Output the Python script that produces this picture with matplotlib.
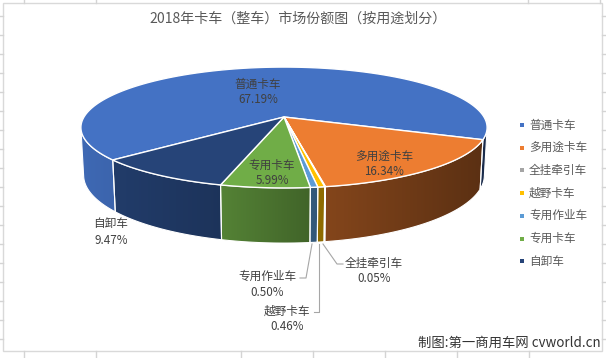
import numpy as np
import matplotlib
matplotlib.use('Agg')
import matplotlib.pyplot as plt
from matplotlib.patches import Polygon, Rectangle

plt.rcParams['font.family'] = ['Noto Sans CJK SC', 'DejaVu Sans']

# data
categories = ['普通卡车', '多用途卡车', '全挂牵引车', '越野卡车', '专用作业车', '专用卡车', '自卸车']
shares = [67.19, 16.34, 0.05, 0.46, 0.50, 5.99, 9.47]
colors = ['#4472C4', '#ED7D31', '#A5A5A5', '#FFC000', '#5B9BD5', '#70AD47', '#264478']
title = '2018年卡车（整车）市场份额图（按用途划分）'
footer = '制图:第一商用车网 cvworld.cn'

# 3D pie geometry (pixels), perspective camera
CX, CY, R = 284, 117, 200
SIN_A = 0.293
COS_A = np.sqrt(1 - SIN_A ** 2)
F = 5.5        # camera distance in radii
H = 0.247      # pie thickness in radii
START = 220.6  # angle of first slice (deg, counter-clockwise from 3 o'clock)


def project(phi_deg, h):
    phi = np.radians(phi_deg)
    x = np.cos(phi)
    yd = np.sin(phi)
    zc = F + yd * COS_A - h * SIN_A
    sy = yd * SIN_A + h * COS_A
    return CX + R * x * F / zc, CY - R * sy * F / zc


def shade(x):
    # light comes from the left, walls get darker to the right
    return np.interp(x, [x_left, 217, 320, x_right], [0.92, 0.76, 0.56, 0.38])


fig = plt.figure(figsize=(6.06, 3.58), dpi=100)
ax = fig.add_axes([0, 0, 1, 1])

# silhouette of the side wall
sil = np.degrees(np.arcsin(1 / (F * COS_A)))
windows = [(-180 + sil, -sil), (180 + sil, 360 - sil)]
x_left = project(180 + sil, 0)[0]
x_right = project(-sil, 0)[0]

cum = np.concatenate([[0], np.cumsum(shares)])
bounds = START - 360 * cum / 100

# side walls
for i, col in enumerate(colors):
    a_hi, a_lo = bounds[i], bounds[i + 1]
    for w_lo, w_hi in windows:
        lo, hi = max(a_lo, w_lo), min(a_hi, w_hi)
        if hi <= lo:
            continue
        t = np.linspace(hi, lo, 80)
        tx, ty = project(t, 0)
        bx, by = project(t[::-1], -H)
        pts = np.column_stack([np.concatenate([tx, bx]), np.concatenate([ty, by])])
        poly = Polygon(pts, closed=True, facecolor='none', edgecolor='white', lw=0.8, zorder=3)
        ax.add_patch(poly)
        xs = np.linspace(pts[:, 0].min(), pts[:, 0].max(), 64)
        base = np.array(matplotlib.colors.to_rgb(col))
        img = (base[None, :] * shade(xs)[:, None])[None, :, :]
        im = ax.imshow(img, extent=(xs[0], xs[-1], pts[:, 1].max(), pts[:, 1].min()),
                       aspect='auto', interpolation='bilinear', zorder=2)
        im.set_clip_path(poly)

# top faces
for i, col in enumerate(colors):
    t = np.linspace(bounds[i], bounds[i + 1], max(int(abs(bounds[i] - bounds[i + 1]) * 2), 4))
    tx, ty = project(t, 0)
    pts = np.column_stack([np.concatenate([[CX], tx]), np.concatenate([[CY], ty])])
    ax.add_patch(Polygon(pts, closed=True, facecolor=col, edgecolor='white', lw=1.0, zorder=4))

# data labels
lab_col = '#404040'
inside = {0: (258, 84), 1: (384, 156), 5: (272, 165)}
for i, (x, y) in inside.items():
    ax.text(x, y, categories[i], ha='center', va='center', fontsize=8.4, color=lab_col, zorder=6)
    ax.text(x, y + 15.5, f'{shares[i]:.2f}%', ha='center', va='center', fontsize=8.4, color=lab_col, zorder=6)

outside = {6: (111, 224), 2: (374, 263), 4: (267, 276), 3: (287, 311)}
for i, (x, y) in outside.items():
    ax.text(x, y, categories[i], ha='center', va='center', fontsize=8.4, color=lab_col, zorder=6)
    ax.text(x, y + 16, f'{shares[i]:.2f}%', ha='center', va='center', fontsize=8.4, color=lab_col, zorder=6)

# leader lines
lc = '#a6a6a6'
ax.plot([323, 337, 343], [244, 264, 264], color=lc, lw=0.8, zorder=5)
ax.plot([312, 306, 300], [244, 278, 278], color=lc, lw=0.8, zorder=5)
ax.plot([319, 319, 314], [244, 312, 312], color=lc, lw=0.8, zorder=5)

# legend
for i, (name, col) in enumerate(zip(categories, colors)):
    y = 125 + i * 22.7
    ax.scatter([522], [y], marker='s', s=9, color=col, linewidths=0, zorder=6)
    ax.text(529, y, name, ha='left', va='center', fontsize=8.4, color='#595959', zorder=6)

ax.text(298, 19, title, ha='center', va='center', fontsize=10.1, color='#595959')
ax.text(601, 343, footer, ha='right', va='center', fontsize=9.6, color='#333333', zorder=6)

# chart frame and the spreadsheet grid around it
ax.add_patch(Rectangle((2.5, 2.5), 599.5, 348.5, facecolor='none', edgecolor='#d9d9d9', lw=1, zorder=1))
gc = '#d4d4d4'
for x in [24, 96, 528, 600]:
    ax.plot([x, x], [0, 2.5], color=gc, lw=1)
for x in [24, 96, 241, 313, 385, 457, 529]:
    ax.plot([x, x], [351, 358], color=gc, lw=1)
for y in np.arange(16, 345, 19.0):
    ax.plot([0, 2.5], [y, y], color=gc, lw=1)
    ax.plot([602, 606], [y, y], color=gc, lw=1)

ax.set_xlim(0, 606)
ax.set_ylim(358, 0)
ax.axis('off')
fig.savefig('out.png', dpi=100)
